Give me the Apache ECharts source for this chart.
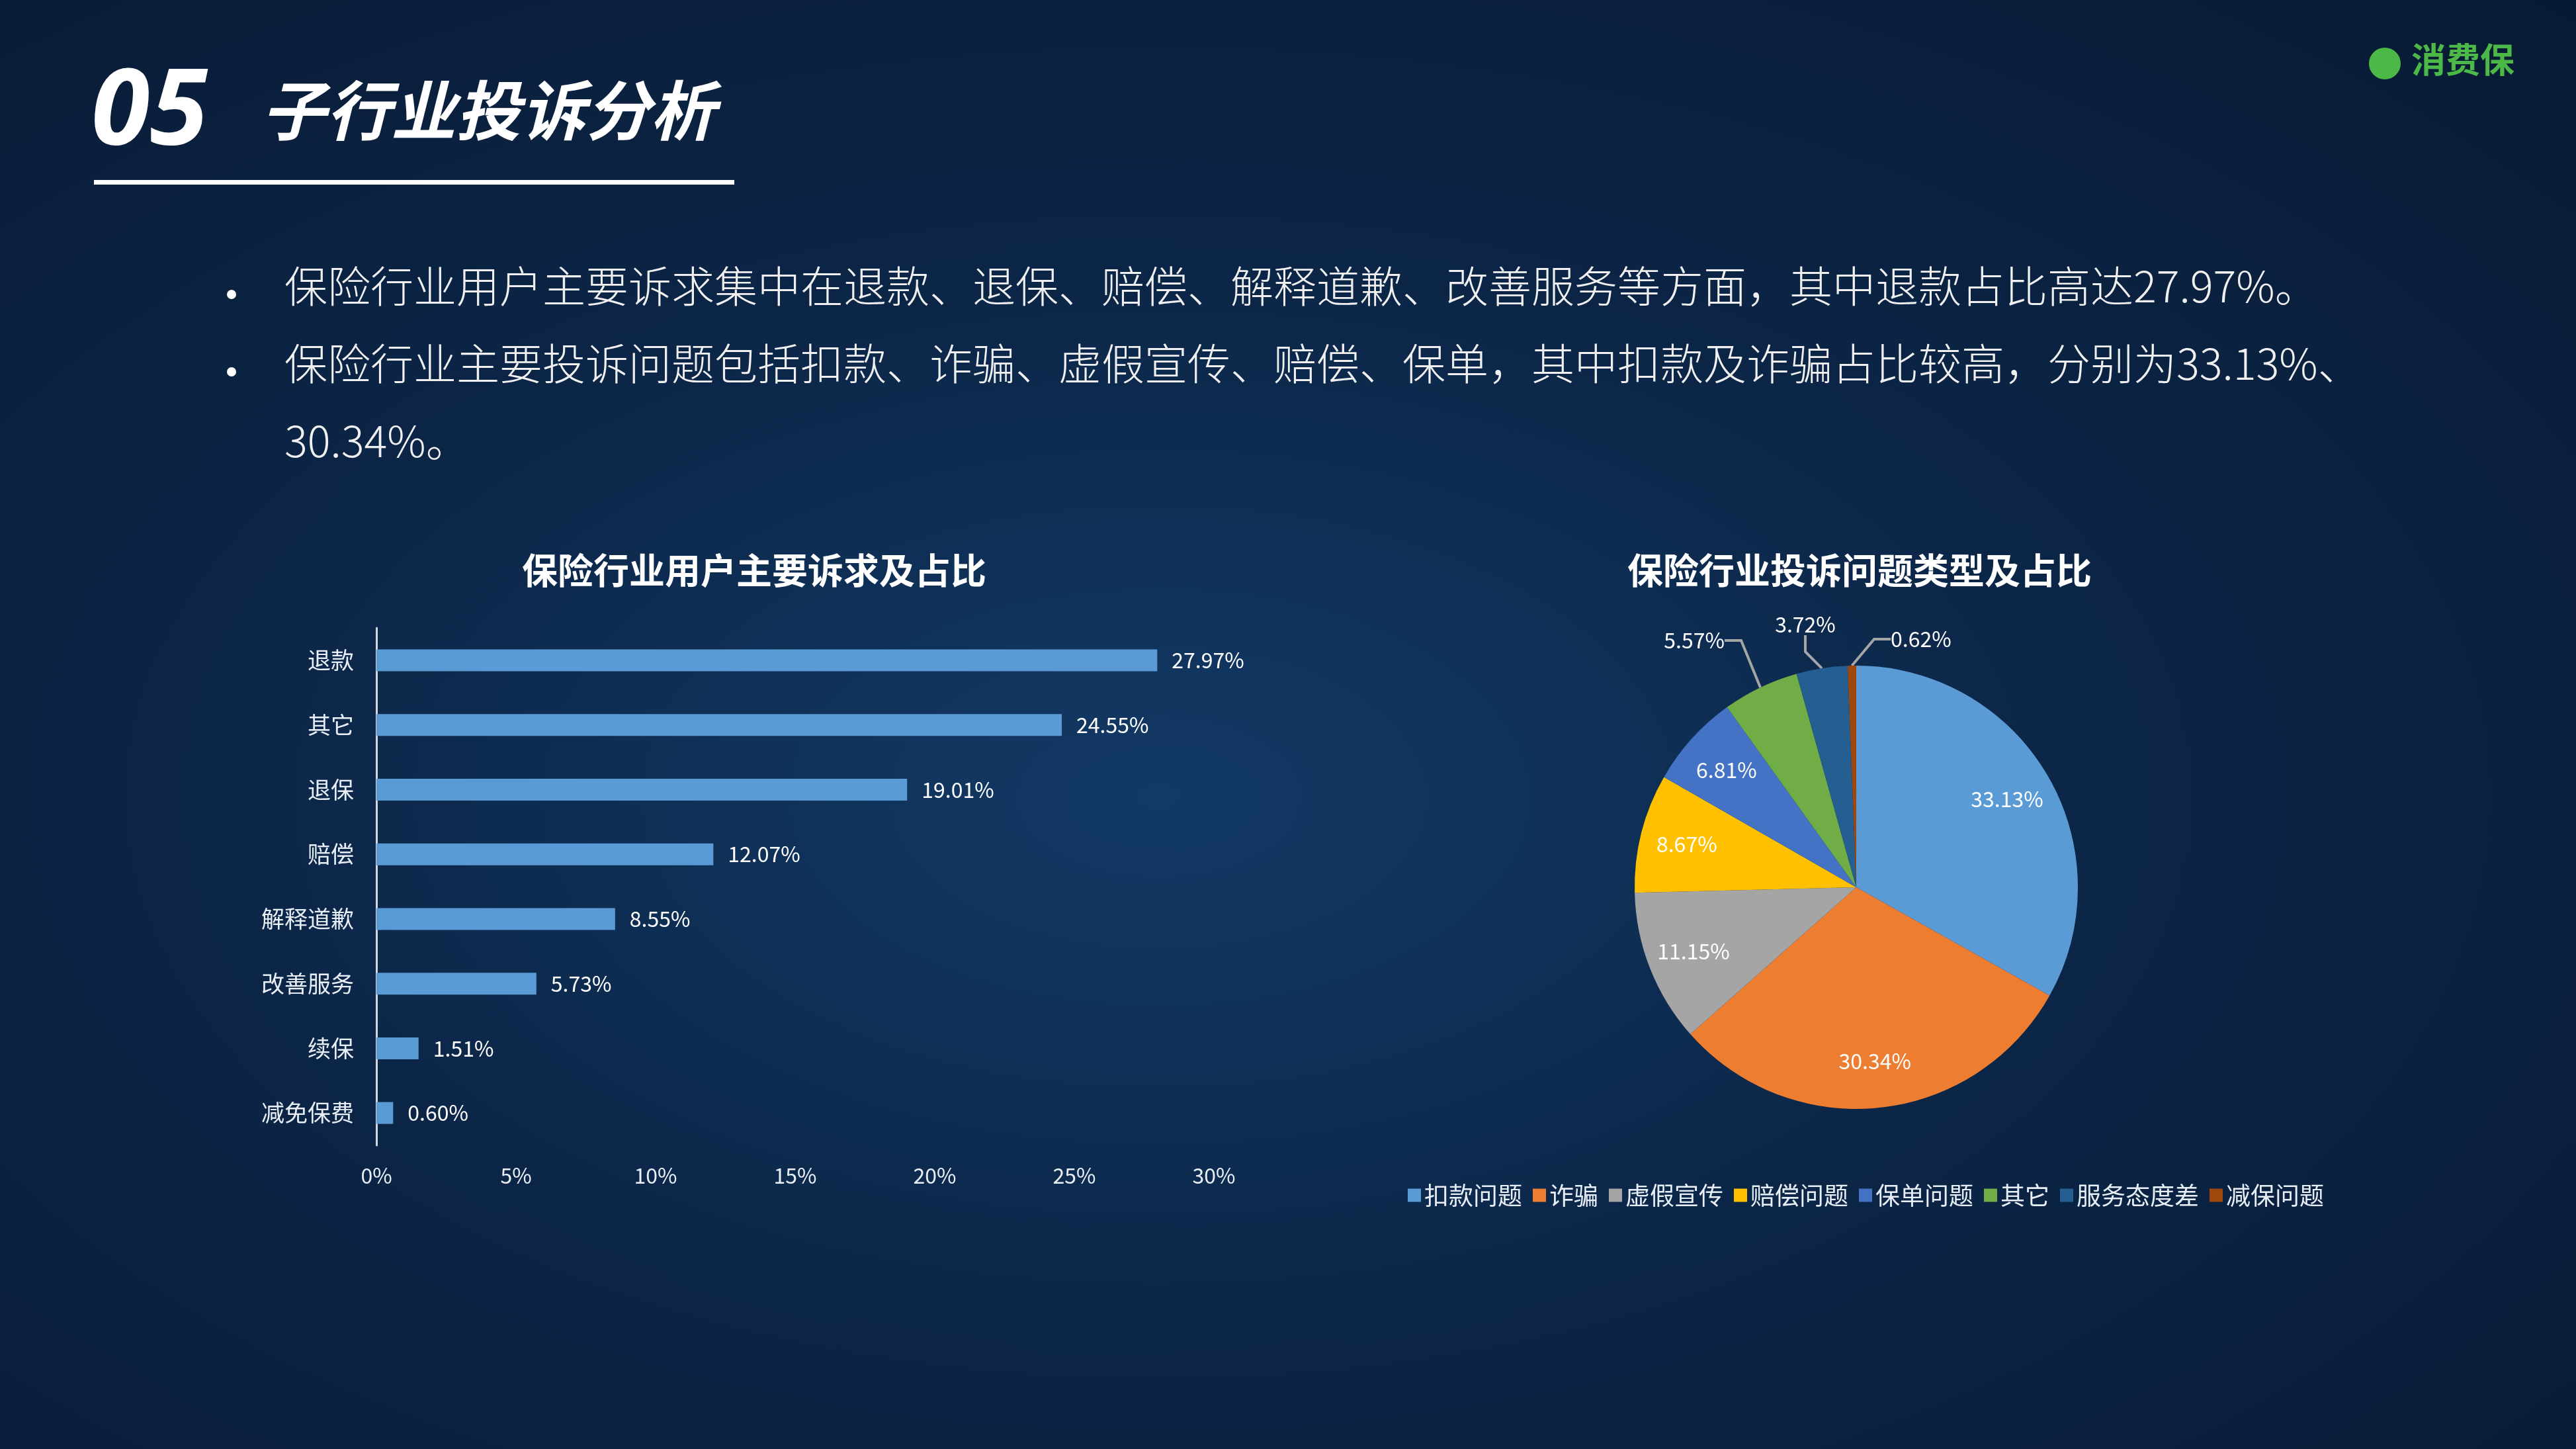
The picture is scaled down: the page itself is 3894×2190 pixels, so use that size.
<!DOCTYPE html>
<html><head><meta charset="utf-8">
<script src="https://cdn.jsdelivr.net/npm/echarts@6/dist/echarts.min.js"></script>
<style>
html,body{margin:0;padding:0;width:3894px;height:2190px;overflow:hidden;}
#c{width:3894px;height:2190px;background:radial-gradient(ellipse at 45% 55%, #123a66 0%, #0c2648 45%, #081a33 100%);}
</style></head><body><div id="c"></div>
<script>
const barCategories = ['退款','其它','退保','赔偿','解释道歉','改善服务','续保','减免保费'];
const barValues = [27.97,24.55,19.01,12.07,8.55,5.73,1.51,0.60];
const xTicks = [0,5,10,15,20,25,30];
const pieNames = ['扣款问题','诈骗','虚假宣传','赔偿问题','保单问题','其它','服务态度差','减保问题'];
const pieValues = [33.13,30.34,11.15,8.67,6.81,5.57,3.72,0.62];
const pieColors = ['#5B9BD5','#ED7D31','#A5A5A5','#FFC000','#4472C4','#70AD47','#255E91','#9E480E'];
const bullets = ['保险行业用户主要诉求集中在退款、退保、赔偿、解释道歉、改善服务等方面，其中退款占比高达27.97%。',
 '保险行业主要投诉问题包括扣款、诈骗、虚假宣传、赔偿、保单，其中扣款及诈骗占比较高，分别为33.13%、',
 '30.34%。'];

const FONT = '"Noto Sans CJK SC", "Noto Sans", sans-serif';
const chart = echarts.init(document.getElementById('c'));
const outsidePos = {5:{x:2607,y:968,align:'right'},6:{x:2729,y:944,align:'center'},7:{x:2858,y:966,align:'left'}};
const CX = 2806, CY = 1341, R = 335;
chart.setOption({
  textStyle:{fontFamily:FONT},
  title:[
    {text:'保险行业用户主要诉求及占比',left:1135,top:830,textAlign:'center',textStyle:{color:'#fff',fontSize:54,fontWeight:'bold',fontFamily:FONT}},
    {text:'保险行业投诉问题类型及占比',left:2806,top:830,textAlign:'center',textStyle:{color:'#fff',fontSize:54,fontWeight:'bold',fontFamily:FONT}}
  ],
  grid:{left:569,width:1266,top:949,height:782},
  xAxis:{type:'value',min:0,max:30,interval:5,
    axisLabel:{formatter:v=>v+'%',color:'#e8eef5',fontSize:32,margin:30},
    axisLine:{show:false},axisTick:{show:false},splitLine:{show:false}},
  yAxis:{type:'category',data:barCategories,inverse:true,
    axisLine:{show:true,lineStyle:{color:'#d0d8e0',width:3}},axisTick:{show:false},
    axisLabel:{color:'#e8eef5',fontSize:35,margin:34}},
  legend:{data:pieNames,left:2123,top:1783,width:1700,itemWidth:20,itemHeight:20,itemGap:16,
    icon:'rect',textStyle:{color:'#e8eef5',fontSize:37,fontFamily:FONT}},
  series:[
    {type:'bar',data:barValues,barWidth:33,itemStyle:{color:'#5B9BD5'},
     label:{show:true,position:'right',formatter:p=>p.value.toFixed(2)+'%',color:'#fff',fontSize:32,distance:22}},
    {type:'pie',center:[CX,CY],radius:R,startAngle:90,clockwise:true,
     data:pieNames.map((n,i)=>({name:n,value:pieValues[i],itemStyle:{color:pieColors[i]},
       label: outsidePos[i] ? {show:true,position:'outside',color:'#fff'} : {show:false},
       labelLine:{show:!!outsidePos[i],length:30,length2:25,lineStyle:{color:'#a5a5a5',width:4}}})),
     label:{formatter:p=>p.value.toFixed(2)+'%',fontSize:32,color:'#fff'},
     labelLayout:function(p){const o=outsidePos[p.dataIndex]; if(!o) return {}; return {x:o.x,y:o.y,align:o.align,verticalAlign:'middle'};}},
    {type:'pie',center:[CX,CY],radius:[R*0.56,R],startAngle:90,clockwise:true,silent:true,
     itemStyle:{color:'rgba(0,0,0,0)'},
     data:pieNames.map((n,i)=>({name:n,value:pieValues[i],
       label:{show:!outsidePos[i]},itemStyle:{color:'rgba(0,0,0,0)'}})),
     label:{position:'inner',formatter:p=>p.value.toFixed(2)+'%',fontSize:32,color:'#fff'},labelLine:{show:false}}
  ],
  graphic:[
    {type:'text',left:138,top:92,style:{text:'05',fill:'#fff',font:'italic bold 160px "Open Sans", sans-serif',shadowBlur:30,shadowColor:'rgba(80,200,255,0.5)'}},
    {type:'text',left:395,top:118,style:{text:'子行业投诉分析',fill:'#fff',font:'italic bold 98px '+FONT,shadowBlur:30,shadowColor:'rgba(80,200,255,0.5)'}},
    {type:'rect',shape:{x:142,y:272,width:968,height:7},style:{fill:'#fff'}},
    {type:'text',left:3645,top:64,style:{text:'消费保',fill:'#4cb848',font:'bold 52px '+FONT}},
    {type:'circle',shape:{cx:3605,cy:96,r:24},style:{fill:'#4cb848'}},
    {type:'circle',shape:{cx:350,cy:445,r:7},style:{fill:'#fff'}},
    {type:'circle',shape:{cx:350,cy:562,r:7},style:{fill:'#fff'}},
    {type:'text',left:430,top:400,style:{text:bullets[0],fill:'#f0f0f0',font:'300 65px '+FONT}},
    {type:'text',left:430,top:517,style:{text:bullets[1],fill:'#f0f0f0',font:'300 65px '+FONT}},
    {type:'text',left:430,top:634,style:{text:bullets[2],fill:'#f0f0f0',font:'300 65px '+FONT}}
  ]
});
</script></body></html>
